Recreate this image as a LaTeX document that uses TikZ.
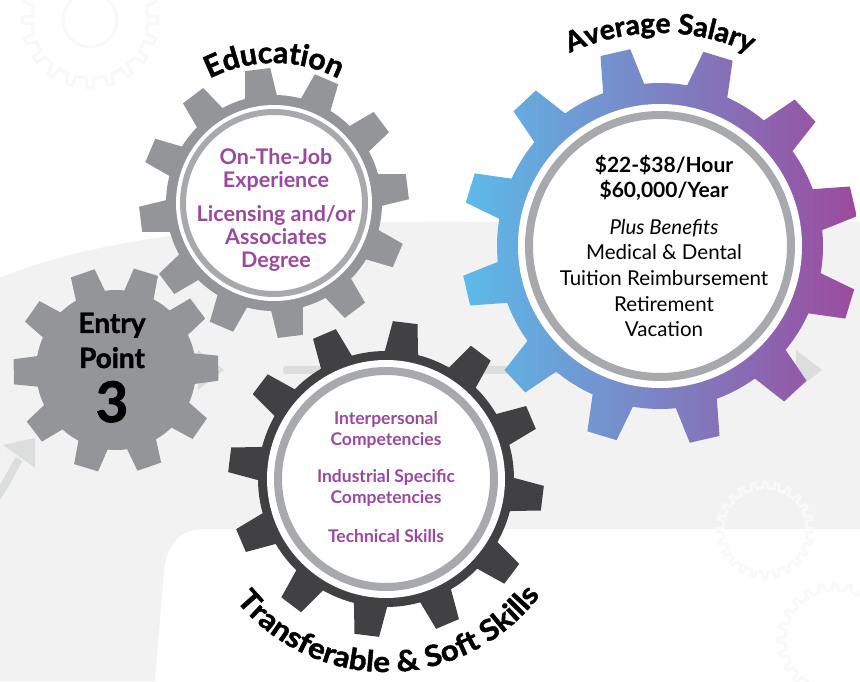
\documentclass[tikz,border=0pt]{standalone}
\usepackage{fontspec}
\setmainfont{Lato}
\newfontfamily\titlefont{Lato}[BoldFeatures={FakeBold=1.6}]
\newfontfamily\widetitlefont{Lato}[BoldFeatures={FakeBold=1.6, FakeStretch=1.08}]
\usetikzlibrary{decorations.text}
\definecolor{gearGrey}{HTML}{939598}
\definecolor{ringGrey}{HTML}{A7A9AC}
\definecolor{gearDark}{HTML}{414042}
\definecolor{bandGrey}{HTML}{F2F2F2}
\definecolor{arrowGrey}{HTML}{DCDDDD}
\definecolor{txtPurple}{HTML}{9A4A9E}
\definecolor{salBlue}{HTML}{5CBBE9}
\definecolor{salPurple}{HTML}{9C4A9E}
\definecolor{faintLine}{HTML}{F8F8F8}
\definecolor{faintBand}{HTML}{F9F9F9}
% #1 options, #2 cx, #3 cy, #4 teeth, #5 offset, #6 root r, #7 tip r, #8 root half angle, #9 tip half angle
\newcommand\gearpath[9]{%
  \path[#1, shift={(#2,#3)}] ({#5-#8}:#6pt)
    \foreach \k in {1,...,#4}{
      -- ({#5+360/#4*(\k-1)-#8}:#6pt) -- ({#5+360/#4*(\k-1)-#9}:#7pt)
      -- ({#5+360/#4*(\k-1)+#9}:#7pt) -- ({#5+360/#4*(\k-1)+#8}:#6pt)
      arc[start angle={#5+360/#4*(\k-1)+#8}, end angle={#5+360/#4*\k-#8}, radius=#6pt]
    } -- cycle;}
\tikzset{
  purpleTxt/.style={text=txtPurple, font=\bfseries\fontsize{21.5}{21.5}\selectfont, anchor=base, inner sep=0pt},
  skillTxt/.style={text=txtPurple, font=\bfseries\fontsize{17.5}{17.5}\selectfont, anchor=base, inner sep=0pt},
  salBold/.style={text=black, font=\bfseries\fontsize{21}{21}\selectfont, anchor=base, inner sep=0pt},
  salReg/.style={text=black, font=\fontsize{20.5}{20.5}\selectfont, anchor=base, inner sep=0pt},
  entryTxt/.style={text=black, font=\titlefont\bfseries\fontsize{28}{28}\selectfont, anchor=base, inner sep=0pt},
  ringLine/.style={draw=ringGrey, line width=7pt},
  arrowFill/.style={fill=arrowGrey},
  faintGear/.style={draw=faintLine, line width=3pt},
}
\begin{document}
\begin{tikzpicture}[x=1pt,y=1pt]
\useasboundingbox (0,0) rectangle (860,681);
\fill[white] (0,0) rectangle (860,681);
% background band
\fill[bandGrey] (0,403) .. controls (100,445) and (250,459) .. (430,459) -- (860,459) -- (860,152)
  -- (205,152) .. controls (180,152) and (168,138) .. (164,112) -- (155,0) -- (0,0) -- cycle;
% faint background gears
\gearpath{faintGear}{90}{661}{20}{0}{58}{68}{4}{2.5}
\draw[faintLine, line width=3pt] (90,661) circle[radius=27pt];
\gearpath{draw=faintBand, line width=3pt}{765}{151}{24}{0}{42}{48}{3.5}{2}
\gearpath{draw=faintBand, line width=3pt}{835}{41}{24}{0}{50}{57}{3.5}{2}
% arrows
\coordinate (hTail) at (283,311);
\coordinate (hEnd) at (797,311);
\coordinate (hTip) at (822,311);
\fill[arrowFill, rounded corners=3pt] (283,307) rectangle (797,315);
\fill[arrowFill] (hTip) -- (796,331) -- (796,291) -- cycle;
\coordinate (eTip) at (224,311);
\fill[arrowFill] (eTip) -- (198,331) -- (198,291) -- cycle;
\coordinate (lTail) at (-5,181);
\coordinate (lEnd) at (19,222);
\coordinate (lTip) at (35,243);
\draw[arrowGrey, line width=8pt] (lTail) .. controls (5,195) and (12,210) .. (lEnd);
\fill[arrowFill] (lTip) -- (3,236) -- (35,213) -- cycle;
% Entry gear
\gearpath{fill=gearGrey}{116}{311}{10}{1}{80}{103}{11}{7}
% Education gear
\gearpath{fill=gearGrey}{274}{478}{12}{7}{108}{135}{8.5}{5.4}
\fill[white] (274,478) circle[radius=98pt];
\draw[ringLine, line width=6pt] (274,478) circle[radius=91pt];
% Skills gear
\gearpath{fill=gearDark}{386}{202}{12}{-7}{128}{158}{7.5}{4.5}
\fill[white] (386,202) circle[radius=119pt];
\draw[ringLine, line width=8pt] (386,202) circle[radius=108pt];
% Salary gear
\gearpath{left color=salBlue, right color=salPurple, shade}{660}{435}{12}{13}{163}{199}{7.4}{4.4}
\fill[white] (660,435) circle[radius=142pt];
\draw[ringLine, line width=8pt] (660,435) circle[radius=131pt];
% curved titles
\path[decorate, decoration={text along path, text align=center,
  text={|\titlefont\bfseries\fontsize{30}{30}\selectfont|Education}}]
  ([shift={(274,478)}]150:140pt) arc[start angle=150, end angle=30, radius=140pt];
\path[decorate, decoration={text along path, text align=center,
  text={|\titlefont\bfseries\fontsize{28}{28}\selectfont|Average Salary}}]
  ([shift={(660,435)}]140:213pt) arc[start angle=140, end angle=40, radius=213pt];
\path[decorate, decoration={text along path, text align=center,
  text={|\widetitlefont\bfseries\fontsize{29}{29}\selectfont|Transferable {\&} Soft Skills}}]
  ([shift={(386,202)}]200:193pt) arc[start angle=200, end angle=342, radius=193pt];
% Entry text
\node[entryTxt] (entry) at (112,348) {Entry};
\node[entryTxt] (point) at (112,313) {Point};
\node[entryTxt, font=\titlefont\bfseries\fontsize{56}{56}\selectfont] (three) at (112,259) {3};
% Education text
\node[purpleTxt] (e1) at (276,516) {On-The-Job};
\node[purpleTxt] (e2) at (276,493) {Experience};
\node[purpleTxt] (e3) at (276,459) {Licensing and/or};
\node[purpleTxt] (e4) at (276,436) {Associates};
\node[purpleTxt] (e5) at (276,413) {Degree};
% Skills text
\node[skillTxt] (s1) at (386,256) {Interpersonal};
\node[skillTxt] (s2) at (386,235) {Competencies};
\node[skillTxt] (s3) at (386,198) {Industrial Specific};
\node[skillTxt] (s4) at (386,178) {Competencies};
\node[skillTxt] (s5) at (386,139) {Technical Skills};
% Salary text
\node[salBold] (p1) at (664,508) {\$22-\$38/Hour};
\node[salBold] (p2) at (664,483) {\$60,000/Year};
\node[salReg, font=\itshape\fontsize{20.5}{20.5}\selectfont] (p3) at (664,446) {Plus Benefits};
\node[salReg] (p4) at (664,421) {Medical \& Dental};
\node[salReg] (p5) at (664,395) {Tuition Reimbursement};
\node[salReg] (p6) at (664,369) {Retirement};
\node[salReg] (p7) at (664,344) {Vacation};
\end{tikzpicture}
\end{document}
